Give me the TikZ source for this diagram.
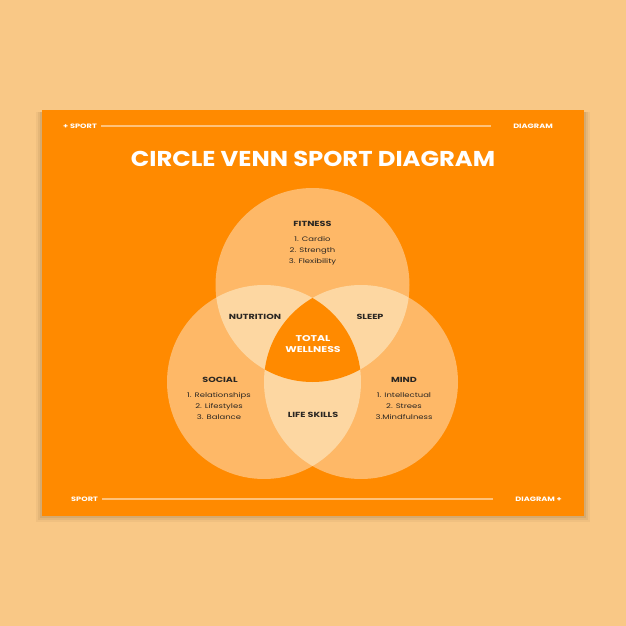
\documentclass[tikz,border=0pt]{standalone}
\usepackage{fontspec}
\setmainfont{Poppins}
\newfontfamily\widefont[FakeStretch=1.3]{Poppins}
\newfontfamily\titlefont[FakeStretch=1.13]{Poppins}
\usetikzlibrary{calc}
\definecolor{outerbg}{HTML}{F9C886}
\definecolor{cardbg}{HTML}{FF8A00}
\definecolor{onecol}{HTML}{FEB867}
\definecolor{twocol}{HTML}{FDD7A2}
\definecolor{linecol}{HTML}{FFC27A}
\definecolor{inkcol}{HTML}{2A2622}
\tikzset{
  hdr/.style={text=white, font=\widefont\fontsize{6.3}{7}\selectfont\bfseries, inner sep=0pt},
  hdrline/.style={draw=linecol, line width=1.4pt},
  lbl/.style={text=inkcol, font=\widefont\fontsize{7.4}{9}\selectfont\bfseries, inner sep=0pt, align=center},
  itm/.style={text=inkcol, font=\widefont\fontsize{6.5}{10.8}\selectfont, inner sep=0pt, align=center},
}
\begin{document}
\begin{tikzpicture}[x=1pt,y=-1pt]
\fill[outerbg] (0,0) rectangle (626,626);
\useasboundingbox (0,0) rectangle (626,626);
% shadow
\foreach \i/\o in {6/0.05,4/0.07,2/0.09}{
  \fill[black!60!brown, opacity=\o] (42-\i,112) rectangle (584+\i,516+\i);
}
\fill[cardbg] (42,110) rectangle (584,516);
% circles
\coordinate (ct) at (312.5,285);
\coordinate (cl) at (264,382);
\coordinate (cr) at (361,382);
\def\R{97}
\fill[onecol] (ct) circle (\R);
\fill[onecol] (cl) circle (\R);
\fill[onecol] (cr) circle (\R);
\begin{scope}\clip (ct) circle (\R); \fill[twocol] (cl) circle (\R); \fill[twocol] (cr) circle (\R); \end{scope}
\begin{scope}\clip (cl) circle (\R); \fill[twocol] (cr) circle (\R); \end{scope}
\begin{scope}\clip (ct) circle (\R); \clip (cl) circle (\R); \fill[cardbg] (cr) circle (\R); \end{scope}
% header / footer
\node[hdr, anchor=west] (hs) at (63,126) {+ SPORT};
\node[hdr, anchor=east] (hd) at (553,126) {DIAGRAM};
\draw[hdrline] ($(hs.east)+(4,0)$) -- ($(hd.west)+(-22,0)$);
\node[hdr, anchor=west] (fs) at (71,499) {SPORT};
\node[hdr, anchor=east] (fd) at (562,499) {DIAGRAM +};
\draw[hdrline] ($(fs.east)+(4,0)$) -- ($(fd.west)+(-22,0)$);
% title
\node[text=white, font=\titlefont\fontsize{21.5}{22}\selectfont\bfseries, inner sep=0pt] (title) at (313,159) {CIRCLE VENN SPORT DIAGRAM};
% labels
\node[lbl] (fit) at (312.5,224) {FITNESS};
\node[itm, anchor=north] (fiti) at (312.5,236.5) {1. Cardio\\2. Strength\\3. Flexibility};
\node[lbl] (nut) at (255,317) {NUTRITION};
\node[lbl] (slp) at (370,317) {SLEEP};
\node[lbl, text=white, font=\widefont\fontsize{8.4}{10.5}\selectfont\bfseries] (tot) at (313,344) {TOTAL\\WELLNESS};
\node[lbl] (soc) at (220,380) {SOCIAL};
\node[itm, anchor=north] (soci) at (219,392.5) {1. Relationships\\2. Lifestyles\\3. Balance};
\node[lbl] (mind) at (404,380) {MIND};
\node[itm, anchor=north] (mindi) at (404,392.5) {1. Intellectual\\2. Strees\\3.Mindfulness};
\node[lbl] (life) at (313,415) {LIFE SKILLS};
\end{tikzpicture}
\end{document}
